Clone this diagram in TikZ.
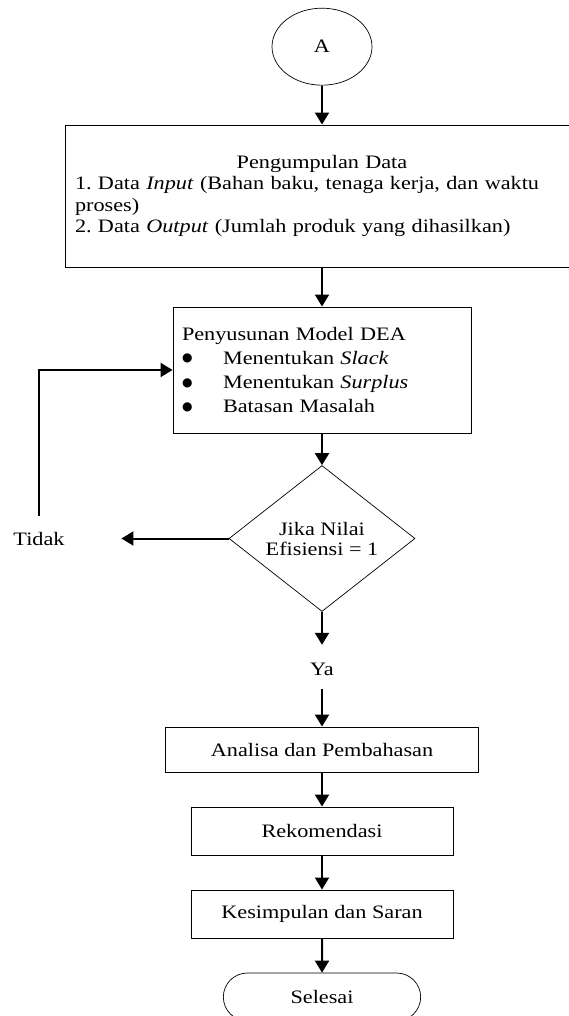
\documentclass[tikz,border=0pt]{standalone}
\usepackage{fontspec}
\setmainfont{Liberation Serif}[FakeStretch=1.17]
\newfontfamily\symboles{DejaVu Sans}
\usetikzlibrary{positioning, shapes.geometric, shapes.misc, arrows.meta}

\newcommand{\puce}{\makebox[41pt][l]{\raisebox{2.5pt}{\symboles\fontsize{12}{12}\selectfont ●}}}

\begin{document}
\begin{tikzpicture}[x=1pt, y=1pt, node distance=80pt, on grid,
    font=\fontsize{19}{21.5}\selectfont,
    bloc/.style={draw, line width=0.9pt, inner xsep=9pt},
    losange/.style={diamond, draw, line width=0.7pt, minimum width=186pt, minimum height=143pt, inner sep=0pt, align=center, font=\fontsize{19}{20}\selectfont},
    etiquette/.style={inner sep=3pt},
    fleche/.style={-{Triangle[length=12pt,width=14pt]}, line width=2pt}]

    \useasboundingbox (0,0) rectangle (568,-1016);

    % Définitions des blocs
    \node[ellipse, draw, line width=0.7pt, minimum width=100pt, minimum height=77pt] (A) at (322,-46.7) {A};
    \node[bloc, below=149.3pt of A, inner xsep=10pt, minimum height=142pt, text width=494pt, align=left] (data)
        {\makebox[494pt]{Pengumpulan Data}\\
         1.\ Data \textit{Input} (Bahan baku, tenaga kerja, dan waktu\\
         proses)\\
         2.\ Data \textit{Output} (Jumlah produk yang dihasilkan)};
    \node[bloc, below=174pt of data, minimum height=126pt, text width=280pt, align=left, font=\fontsize{19}{24.3}\selectfont] (dea)
        {Penyusunan Model DEA\\
         \puce Menentukan \textit{Slack}\\
         \puce Menentukan \textit{Surplus}\\
         \puce Batasan Masalah};
    \node[losange, below=168.5pt of dea] (dia) {Jika Nilai\\Efisiensi = 1};
    \node[etiquette, left=283pt of dia] (tidak) {Tidak};
    \coordinate[above=23pt of tidak] (retour);
    \node[etiquette, below=130.5pt of dia] (ya) {Ya};
    \node[bloc, below=80.5pt of ya, minimum width=313pt, minimum height=45pt] (analisa) {Analisa dan Pembahasan};
    \node[bloc, below=81.5pt of analisa, minimum width=262pt, minimum height=48pt] (rekom) {Rekomendasi};
    \node[bloc, below=83pt of rekom, minimum width=262pt, minimum height=48pt] (kesimpulan) {Kesimpulan dan Saran};
    \node[rounded rectangle, draw, line width=0.7pt, below=83pt of kesimpulan, minimum width=204pt, minimum height=48pt] (selesai) {Selesai};

    % Définition des flèches
    \path[fleche]
    (A) edge (data)
    (data) edge (dea)
    (dea) edge (dia)
    (dia) edge[shorten >=53.7pt] (tidak)
    (dia) edge[shorten >=14.7pt] (ya)
    (ya) edge[shorten <=10.7pt] (analisa)
    (analisa) edge (rekom)
    (rekom) edge (kesimpulan)
    (kesimpulan) edge (selesai);
    \draw[fleche] (retour) |- (dea.west);

\end{tikzpicture}
\end{document}
